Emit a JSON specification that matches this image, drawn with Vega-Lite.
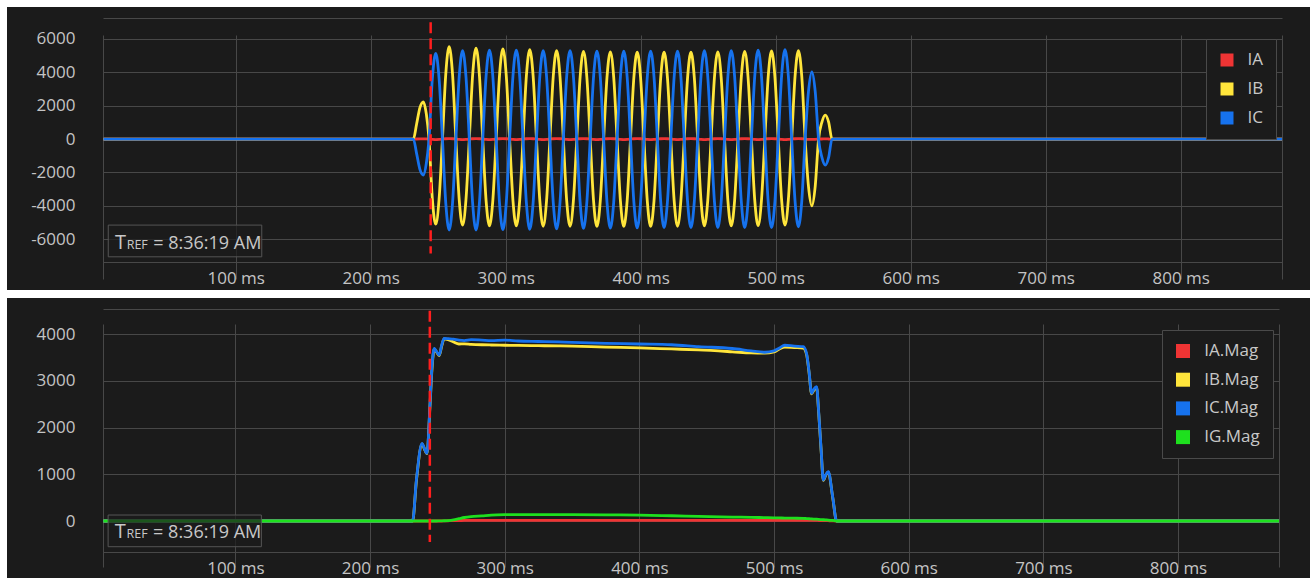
{
  "$schema": "https://vega.github.io/schema/vega-lite/v6.json",
  "background": "#ffffff",
  "padding": {"left": 7, "top": 7, "right": 0, "bottom": 0},
  "spacing": 8,
  "config": {
    "view": {"fill": "#1b1b1b", "stroke": null},
    "font": "Open Sans",
    "axis": {"labelFont": "Open Sans", "labelFontSize": 17, "labelColor": "#c4c4c4", "gridColor": "#484848", "gridOpacity": 1, "domain": false, "ticks": false, "tickSize": 0, "labelOverlap": false, "labelFlush": false, "labelBound": false, "tickCount": 40},
    "legend": {"labelFont": "Open Sans", "labelFontSize": 17, "labelColor": "#c8c8c8", "fillColor": "#1b1b1b", "strokeColor": "#4a4a4a", "padding": 12.5, "rowPadding": 11, "labelOffset": 12, "symbolType": "square", "symbolStrokeWidth": 0, "symbolSize": 169, "symbolOpacity": 1}
  },
  "resolve": {"scale": {"color": "independent", "x": "independent", "y": "independent"}, "legend": {"color": "independent"}},
  "vconcat": [
    {
      "width": 1303,
      "height": 283,
      "layer": [
        {
          "data": {"values": [
            {"t":2,"IA":0,"IB":0,"IC":0},
            {"t":231.6,"IA":0,"IB":0,"IC":0},
            {"t":234.0,"IA":5,"IB":900,"IC":-870},
            {"t":236.5,"IA":10,"IB":1900,"IC":-1830},
            {"t":239.0,"IA":15,"IB":2230,"IC":-2150},
            {"t":241.2,"IA":10,"IB":1500,"IC":-1450},
            {"t":243.18,"IA":0,"IB":0,"IC":0},
            {"t":245.66,"IA":-20,"IB":-3600,"IC":3630},
            {"t":248.15,"IA":-30,"IB":-5090,"IC":5130},
            {"t":250.64,"IA":-20,"IB":-3600,"IC":3630},
            {"t":253.13,"IA":0,"IB":0,"IC":0},
            {"t":255.61,"IA":20,"IB":3910,"IC":-3850},
            {"t":258.10,"IA":30,"IB":5530,"IC":-5450},
            {"t":260.59,"IA":20,"IB":3910,"IC":-3850},
            {"t":263.08,"IA":0,"IB":0,"IC":0},
            {"t":265.56,"IA":-20,"IB":-3640,"IC":3750},
            {"t":268.05,"IA":-30,"IB":-5150,"IC":5300},
            {"t":270.54,"IA":-20,"IB":-3640,"IC":3750},
            {"t":273.03,"IA":0,"IB":0,"IC":0},
            {"t":275.51,"IA":20,"IB":3850,"IC":-3850},
            {"t":278.00,"IA":30,"IB":5450,"IC":-5450},
            {"t":280.49,"IA":20,"IB":3850,"IC":-3850},
            {"t":282.98,"IA":0,"IB":0,"IC":0},
            {"t":285.46,"IA":-20,"IB":-3680,"IC":3770},
            {"t":287.95,"IA":-30,"IB":-5200,"IC":5330},
            {"t":290.44,"IA":-20,"IB":-3680,"IC":3770},
            {"t":292.93,"IA":0,"IB":0,"IC":0},
            {"t":295.41,"IA":20,"IB":3820,"IC":-3830},
            {"t":297.90,"IA":30,"IB":5400,"IC":-5420},
            {"t":300.39,"IA":20,"IB":3820,"IC":-3830},
            {"t":302.88,"IA":0,"IB":0,"IC":0},
            {"t":305.36,"IA":-20,"IB":-3680,"IC":3770},
            {"t":307.85,"IA":-30,"IB":-5200,"IC":5330},
            {"t":310.34,"IA":-20,"IB":-3680,"IC":3770},
            {"t":312.83,"IA":0,"IB":0,"IC":0},
            {"t":315.31,"IA":20,"IB":3780,"IC":-3820},
            {"t":317.80,"IA":30,"IB":5350,"IC":-5400},
            {"t":320.29,"IA":20,"IB":3780,"IC":-3820},
            {"t":322.78,"IA":0,"IB":0,"IC":0},
            {"t":325.26,"IA":-20,"IB":-3690,"IC":3750},
            {"t":327.75,"IA":-30,"IB":-5220,"IC":5300},
            {"t":330.24,"IA":-20,"IB":-3690,"IC":3750},
            {"t":332.73,"IA":0,"IB":0,"IC":0},
            {"t":335.21,"IA":20,"IB":3750,"IC":-3800},
            {"t":337.70,"IA":30,"IB":5300,"IC":-5380},
            {"t":340.19,"IA":20,"IB":3750,"IC":-3800},
            {"t":342.68,"IA":0,"IB":0,"IC":0},
            {"t":345.16,"IA":-20,"IB":-3690,"IC":3750},
            {"t":347.65,"IA":-30,"IB":-5220,"IC":5300},
            {"t":350.14,"IA":-20,"IB":-3690,"IC":3750},
            {"t":352.63,"IA":0,"IB":0,"IC":0},
            {"t":355.11,"IA":20,"IB":3710,"IC":-3780},
            {"t":357.60,"IA":30,"IB":5250,"IC":-5350},
            {"t":360.09,"IA":20,"IB":3710,"IC":-3780},
            {"t":362.58,"IA":0,"IB":0,"IC":0},
            {"t":365.06,"IA":-20,"IB":-3700,"IC":3730},
            {"t":367.55,"IA":-30,"IB":-5230,"IC":5270},
            {"t":370.04,"IA":-20,"IB":-3700,"IC":3730},
            {"t":372.53,"IA":0,"IB":0,"IC":0},
            {"t":375.01,"IA":20,"IB":3690,"IC":-3770},
            {"t":377.50,"IA":30,"IB":5220,"IC":-5330},
            {"t":379.99,"IA":20,"IB":3690,"IC":-3770},
            {"t":382.48,"IA":0,"IB":0,"IC":0},
            {"t":384.96,"IA":-20,"IB":-3700,"IC":3730},
            {"t":387.45,"IA":-30,"IB":-5230,"IC":5270},
            {"t":389.94,"IA":-20,"IB":-3700,"IC":3730},
            {"t":392.43,"IA":0,"IB":0,"IC":0},
            {"t":394.91,"IA":20,"IB":3680,"IC":-3760},
            {"t":397.40,"IA":30,"IB":5200,"IC":-5320},
            {"t":399.89,"IA":20,"IB":3680,"IC":-3760},
            {"t":402.38,"IA":0,"IB":0,"IC":0},
            {"t":404.86,"IA":-20,"IB":-3700,"IC":3730},
            {"t":407.35,"IA":-30,"IB":-5230,"IC":5270},
            {"t":409.84,"IA":-20,"IB":-3700,"IC":3730},
            {"t":412.33,"IA":0,"IB":0,"IC":0},
            {"t":414.81,"IA":20,"IB":3680,"IC":-3750},
            {"t":417.30,"IA":30,"IB":5200,"IC":-5300},
            {"t":419.79,"IA":20,"IB":3680,"IC":-3750},
            {"t":422.28,"IA":0,"IB":0,"IC":0},
            {"t":424.76,"IA":-20,"IB":-3690,"IC":3730},
            {"t":427.25,"IA":-30,"IB":-5220,"IC":5270},
            {"t":429.74,"IA":-20,"IB":-3690,"IC":3730},
            {"t":432.23,"IA":0,"IB":0,"IC":0},
            {"t":434.71,"IA":20,"IB":3680,"IC":-3750},
            {"t":437.20,"IA":30,"IB":5200,"IC":-5300},
            {"t":439.69,"IA":20,"IB":3680,"IC":-3750},
            {"t":442.18,"IA":0,"IB":0,"IC":0},
            {"t":444.66,"IA":-20,"IB":-3680,"IC":3750},
            {"t":447.15,"IA":-30,"IB":-5200,"IC":5300},
            {"t":449.64,"IA":-20,"IB":-3680,"IC":3750},
            {"t":452.13,"IA":0,"IB":0,"IC":0},
            {"t":454.61,"IA":20,"IB":3690,"IC":-3750},
            {"t":457.10,"IA":30,"IB":5220,"IC":-5300},
            {"t":459.59,"IA":20,"IB":3690,"IC":-3750},
            {"t":462.08,"IA":0,"IB":0,"IC":0},
            {"t":464.56,"IA":-20,"IB":-3680,"IC":3750},
            {"t":467.05,"IA":-30,"IB":-5200,"IC":5300},
            {"t":469.54,"IA":-20,"IB":-3680,"IC":3750},
            {"t":472.03,"IA":0,"IB":0,"IC":0},
            {"t":474.51,"IA":20,"IB":3710,"IC":-3750},
            {"t":477.00,"IA":30,"IB":5250,"IC":-5300},
            {"t":479.49,"IA":20,"IB":3710,"IC":-3750},
            {"t":481.98,"IA":0,"IB":0,"IC":0},
            {"t":484.46,"IA":-20,"IB":-3660,"IC":3770},
            {"t":486.95,"IA":-30,"IB":-5180,"IC":5330},
            {"t":489.44,"IA":-20,"IB":-3660,"IC":3770},
            {"t":491.93,"IA":0,"IB":0,"IC":0},
            {"t":494.41,"IA":20,"IB":3730,"IC":-3750},
            {"t":496.90,"IA":30,"IB":5280,"IC":-5300},
            {"t":499.39,"IA":20,"IB":3730,"IC":-3750},
            {"t":501.88,"IA":0,"IB":0,"IC":0},
            {"t":504.36,"IA":-20,"IB":-3640,"IC":3780},
            {"t":506.85,"IA":-30,"IB":-5150,"IC":5350},
            {"t":509.34,"IA":-20,"IB":-3640,"IC":3780},
            {"t":511.83,"IA":0,"IB":0,"IC":0},
            {"t":514.31,"IA":20,"IB":3750,"IC":-3710},
            {"t":516.80,"IA":30,"IB":5300,"IC":-5250},
            {"t":519.29,"IA":20,"IB":3750,"IC":-3710},
            {"t":521.78,"IA":0,"IB":0,"IC":0},
            {"t":524.26,"IA":-15,"IB":-2830,"IC":2850},
            {"t":526.75,"IA":-20,"IB":-4000,"IC":4030},
            {"t":529.24,"IA":-15,"IB":-2830,"IC":2850},
            {"t":531.73,"IA":0,"IB":0,"IC":0},
            {"t":534.21,"IA":5,"IB":1020,"IC":-1100},
            {"t":536.70,"IA":10,"IB":1440,"IC":-1560},
            {"t":539.19,"IA":5,"IB":1020,"IC":-1100},
            {"t":541.68,"IA":0,"IB":0,"IC":0},
            {"t":875,"IA":0,"IB":0,"IC":0}
          ]},
          "transform": [{"fold": ["IA", "IB", "IC"], "as": ["series", "value"]}],
          "mark": {"type": "line", "interpolate": "monotone", "strokeWidth": 2.8},
          "encoding": {
            "x": {"field": "t", "type": "quantitative",
              "scale": {"domain": [1.7, 875], "range": [96, 1275], "nice": false, "zero": false},
              "axis": {"title": null, "values": [1.7, 100, 200, 300, 400, 500, 600, 700, 800, 875], "labelExpr": "datum.value < 50 || datum.value > 850 ? '' : datum.value + ' ms'", "offset": -28, "labelPadding": 8, "grid": true, "tickCount": 40}},
            "y": {"field": "value", "type": "quantitative",
              "scale": {"domain": [-7360, 7250], "range": [255, 11], "nice": false, "zero": false},
              "axis": {"title": null, "values": [-7360, -6000, -4000, -2000, 0, 2000, 4000, 6000, 7250], "labelExpr": "abs(datum.value) > 7000 ? '' : '' + datum.value", "offset": -96, "labelPadding": 28, "grid": true, "tickCount": 40}},
            "color": {"field": "series", "type": "nominal",
              "scale": {"domain": ["IA", "IB", "IC"], "range": ["#ef3434", "#ffe53b", "#1672ee"]},
              "legend": {"title": null, "orient": "none", "legendX": 1199, "legendY": 32,
                "encode": {"symbols": {"update": {"fill": {"scale": "concat_0_color", "field": "value"}, "strokeWidth": {"value": 0}}}}}}
          }
        },
        {
          "data": {"values": [{}]},
          "mark": {"type": "rule", "color": "#ff1e1e", "strokeWidth": 2.5, "strokeDash": [11, 5]},
          "encoding": {"x": {"datum": 244.4}, "y": {"datum": 7000}, "y2": {"datum": -6850}}
        },
        {
          "data": {"values": [{}]},
          "mark": {"type": "rect", "fill": "#1b1b1b", "fillOpacity": 0.7, "stroke": "#555555", "strokeWidth": 1},
          "encoding": {"x": {"datum": 5.6}, "x2": {"datum": 119.3}, "y": {"datum": -5150}, "y2": {"datum": -7050}}
        },
        {
          "data": {"values": [{}]},
          "mark": {"type": "text", "text": "T", "align": "left", "baseline": "alphabetic", "dx": 6.7, "fontSize": 20, "color": "#c8c8c8", "font": "Open Sans"},
          "encoding": {"x": {"datum": 5.6}, "y": {"datum": -6560}}
        },
        {
          "data": {"values": [{}]},
          "mark": {"type": "text", "text": "REF", "align": "left", "baseline": "alphabetic", "dx": 18.4, "fontSize": 12.5, "color": "#c8c8c8", "font": "Open Sans"},
          "encoding": {"x": {"datum": 5.6}, "y": {"datum": -6560}}
        },
        {
          "data": {"values": [{}]},
          "mark": {"type": "text", "text": "= 8:36:19 AM", "align": "left", "baseline": "alphabetic", "dx": 45, "fontSize": 18, "color": "#c8c8c8", "font": "Open Sans"},
          "encoding": {"x": {"datum": 5.6}, "y": {"datum": -6560}}
        }
      ]
    },
    {
      "width": 1303,
      "height": 280,
      "layer": [
        {
          "data": {"values": [
            {"t":2,"IA":0,"IB":0,"IC":0,"IG":0},
            {"t":231.6,"IA":0,"IB":0,"IC":0,"IG":0},
            {"t":234.5,"IA":0,"IB":880,"IC":900,"IG":0},
            {"t":238.6,"IA":0,"IB":1650,"IC":1662,"IG":0},
            {"t":240.4,"IA":0,"IB":1540,"IC":1550,"IG":0},
            {"t":242.3,"IA":0,"IB":1440,"IC":1448,"IG":0},
            {"t":244.5,"IA":0,"IB":2450,"IC":2480,"IG":0},
            {"t":246.0,"IA":0,"IB":3250,"IC":3300,"IG":0},
            {"t":247.7,"IA":0,"IB":3680,"IC":3694,"IG":0},
            {"t":249.5,"IA":0,"IB":3610,"IC":3620,"IG":0},
            {"t":251.4,"IA":0,"IB":3540,"IC":3551,"IG":2},
            {"t":253.2,"IA":0,"IB":3740,"IC":3760,"IG":3},
            {"t":255.0,"IA":2,"IB":3895,"IC":3907,"IG":5},
            {"t":258.0,"IA":5,"IB":3880,"IC":3900,"IG":10},
            {"t":262.0,"IA":8,"IB":3830,"IC":3890,"IG":25},
            {"t":266.0,"IA":10,"IB":3786,"IC":3870,"IG":50},
            {"t":270.0,"IA":12,"IB":3790,"IC":3860,"IG":75},
            {"t":275.0,"IA":14,"IB":3780,"IC":3880,"IG":95},
            {"t":283.0,"IA":15,"IB":3770,"IC":3870,"IG":110},
            {"t":290.0,"IA":15,"IB":3765,"IC":3860,"IG":125},
            {"t":300.0,"IA":15,"IB":3760,"IC":3870,"IG":135},
            {"t":310.0,"IA":15,"IB":3755,"IC":3850,"IG":138},
            {"t":325.0,"IA":15,"IB":3750,"IC":3840,"IG":138},
            {"t":340.0,"IA":15,"IB":3745,"IC":3830,"IG":137},
            {"t":350.0,"IA":15,"IB":3740,"IC":3820,"IG":136},
            {"t":375.0,"IA":15,"IB":3720,"IC":3800,"IG":132},
            {"t":400.0,"IA":15,"IB":3705,"IC":3786,"IG":126},
            {"t":424.0,"IA":15,"IB":3680,"IC":3770,"IG":112},
            {"t":444.0,"IA":15,"IB":3660,"IC":3730,"IG":100},
            {"t":469.0,"IA":15,"IB":3620,"IC":3690,"IG":85},
            {"t":483.0,"IA":15,"IB":3595,"IC":3640,"IG":78},
            {"t":493.0,"IA":15,"IB":3590,"IC":3610,"IG":72},
            {"t":500.0,"IA":15,"IB":3615,"IC":3640,"IG":68},
            {"t":504.0,"IA":15,"IB":3680,"IC":3700,"IG":66},
            {"t":508.0,"IA":15,"IB":3720,"IC":3760,"IG":63},
            {"t":515.0,"IA":15,"IB":3710,"IC":3740,"IG":60},
            {"t":521.7,"IA":15,"IB":3700,"IC":3730,"IG":57},
            {"t":524.2,"IA":15,"IB":3560,"IC":3580,"IG":52},
            {"t":526.0,"IA":14,"IB":3180,"IC":3200,"IG":48},
            {"t":527.9,"IA":13,"IB":2720,"IC":2731,"IG":45},
            {"t":529.6,"IA":12,"IB":2800,"IC":2820,"IG":42},
            {"t":531.6,"IA":12,"IB":2860,"IC":2873,"IG":38},
            {"t":533.2,"IA":11,"IB":2300,"IC":2320,"IG":34},
            {"t":535.0,"IA":10,"IB":1500,"IC":1520,"IG":30},
            {"t":536.6,"IA":9,"IB":870,"IC":877,"IG":27},
            {"t":538.4,"IA":8,"IB":980,"IC":990,"IG":24},
            {"t":540.3,"IA":6,"IB":1045,"IC":1055,"IG":21},
            {"t":543.5,"IA":3,"IB":520,"IC":530,"IG":12},
            {"t":546.5,"IA":0,"IB":0,"IC":0,"IG":0},
            {"t":875,"IA":0,"IB":0,"IC":0,"IG":0}
          ]},
          "transform": [{"fold": ["IA", "IB", "IC", "IG"], "as": ["series", "value"]}],
          "mark": {"type": "line", "interpolate": "monotone", "strokeWidth": 2.8},
          "encoding": {
            "x": {"field": "t", "type": "quantitative",
              "scale": {"domain": [1.7, 875], "range": [96, 1272], "nice": false, "zero": false},
              "axis": {"title": null, "values": [1.7, 100, 200, 300, 400, 500, 600, 700, 800, 875], "labelExpr": "datum.value < 50 || datum.value > 850 ? '' : datum.value + ' ms'", "offset": -26, "labelPadding": 8, "grid": true, "tickCount": 40}},
            "y": {"field": "value", "type": "quantitative",
              "scale": {"domain": [-663, 4535], "range": [254, 11], "nice": false, "zero": false},
              "axis": {"title": null, "values": [-663, 0, 1000, 2000, 3000, 4000, 4535], "labelExpr": "datum.value < -100 || datum.value > 4100 ? '' : '' + datum.value", "offset": -96, "labelPadding": 28, "grid": true, "tickCount": 40}},
            "color": {"field": "series", "type": "nominal",
              "scale": {"domain": ["IA", "IB", "IC", "IG"], "range": ["#ef3434", "#ffe53b", "#1672ee", "#1ee01e"]},
              "legend": {"title": null, "orient": "none", "legendX": 1155, "legendY": 32, "rowPadding": 10.7, "symbolSize": 196, "labelOffset": 12.7, "labelExpr": "datum.label + '.Mag'",
                "encode": {"symbols": {"update": {"fill": {"scale": "concat_1_color", "field": "value"}, "strokeWidth": {"value": 0}}}}}}
          }
        },
        {
          "data": {"values": [{}]},
          "mark": {"type": "rule", "color": "#ff1e1e", "strokeWidth": 2.5, "strokeDash": [11, 5]},
          "encoding": {"x": {"datum": 244.4}, "y": {"datum": 4500}, "y2": {"datum": -450}}
        },
        {
          "data": {"values": [{}]},
          "mark": {"type": "rect", "fill": "#1b1b1b", "fillOpacity": 0.7, "stroke": "#555555", "strokeWidth": 1},
          "encoding": {"x": {"datum": 5.5}, "x2": {"datum": 119.3}, "y": {"datum": 128}, "y2": {"datum": -550}}
        },
        {
          "data": {"values": [{}]},
          "mark": {"type": "text", "text": "T", "align": "left", "baseline": "alphabetic", "dx": 6.7, "fontSize": 20, "color": "#c8c8c8", "font": "Open Sans"},
          "encoding": {"x": {"datum": 5.5}, "y": {"datum": -374}}
        },
        {
          "data": {"values": [{}]},
          "mark": {"type": "text", "text": "REF", "align": "left", "baseline": "alphabetic", "dx": 18.4, "fontSize": 12.5, "color": "#c8c8c8", "font": "Open Sans"},
          "encoding": {"x": {"datum": 5.5}, "y": {"datum": -374}}
        },
        {
          "data": {"values": [{}]},
          "mark": {"type": "text", "text": "= 8:36:19 AM", "align": "left", "baseline": "alphabetic", "dx": 45, "fontSize": 18, "color": "#c8c8c8", "font": "Open Sans"},
          "encoding": {"x": {"datum": 5.5}, "y": {"datum": -374}}
        }
      ]
    }
  ]
}
